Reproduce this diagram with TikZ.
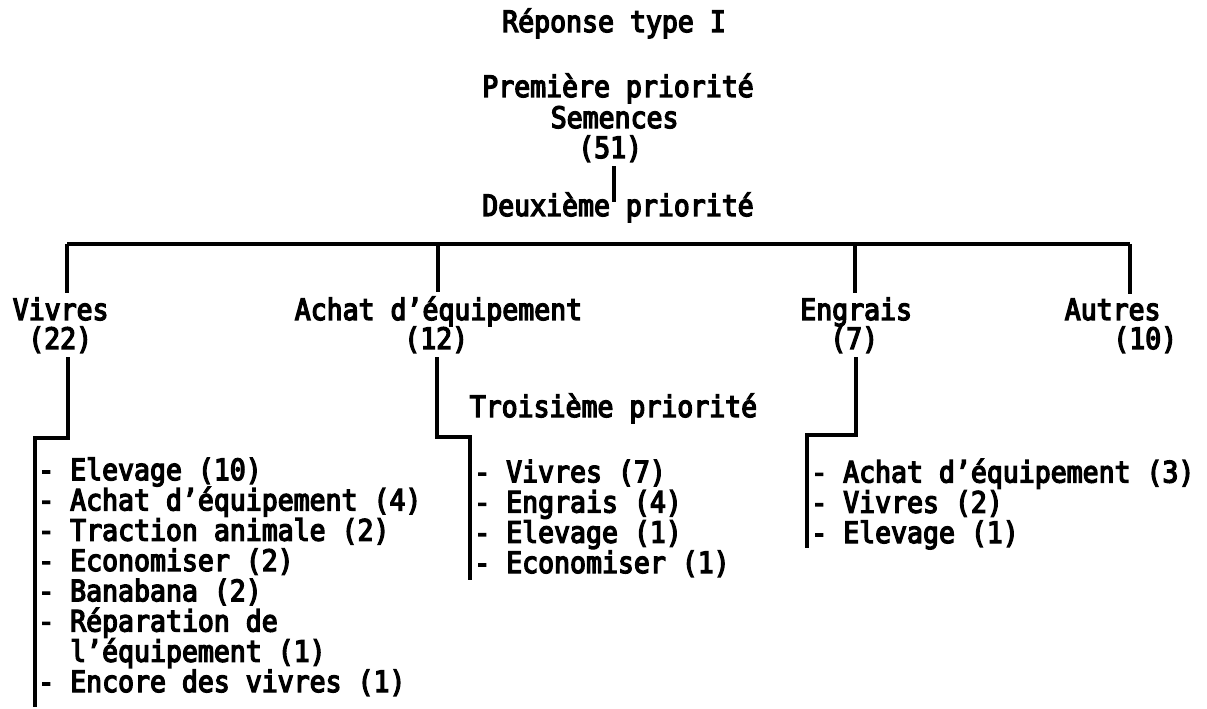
\documentclass[tikz,border=0pt]{standalone}
\usepackage{fontspec}
\setmainfont{DejaVu Sans Mono}[FakeStretch=0.90,
  BoldFont={DejaVu Sans Mono}, BoldFeatures={FakeBold=4.5}]
\begin{document}
\begin{tikzpicture}[x=0.75pt,y=-0.75pt,
  lbl/.style={anchor=base west, inner xsep=0pt, inner ysep=3pt,
    font=\fontsize{22.1pt}{22.7pt}\selectfont\bfseries},
  lst/.style={lbl, align=left},
  rule/.style={line width=2.3pt}]
\useasboundingbox (0,0) rectangle (1207,709);

% headings
\node[lbl] (title)  at (502,32)    {Réponse type I};
\node[lbl] (first)  at (482,97)    {Première priorité};
\node[lbl] (seed)   at (550.5,128) {Semences};
\node[lbl] (seedn)  at (578,158)   {(51)};
\node[lbl] (second) at (482,216)   {Deuxième priorité};

% second-priority branches
\node[lbl] (food)    at (12.5,320)   {Vivres};
\node[lbl] (foodn)   at (28,349)     {(22)};
\node[lbl] (equip)   at (294.5,320)  {Achat d’équipement};
\node[lbl] (equipn)  at (404,349)    {(12)};
\node[lbl] (fert)    at (800,320)    {Engrais};
\node[lbl] (fertn)   at (830,349)    {(7)};
\node[lbl] (other)   at (1064.5,320) {Autres};
\node[lbl] (othern)  at (1113,349)   {(10)};

\node[lbl] (third) at (469.5,417) {Troisième priorité};

% third-priority lists (anchored on the baseline of their last line)
\node[lst] (foodlist) at (38,692) {- Elevage (10)\\
- Achat d’équipement (4)\\
- Traction animale (2)\\
- Economiser (2)\\
- Banabana (2)\\
- Réparation de\\
\hphantom{- }l’équipement (1)\\
- Encore des vivres (1)};
\node[lst] (equiplist) at (474,573) {- Vivres (7)\\
- Engrais (4)\\
- Elevage (1)\\
- Economiser (1)};
\node[lst] (fertlist) at (811,543) {- Achat d’équipement (3)\\
- Vivres (2)\\
- Elevage (1)};

% junction points
\coordinate (top)  at (614,202);
\coordinate (j1)   at (67,244);
\coordinate (j2)   at (438,244);
\coordinate (j3)   at (855,244);
\coordinate (j4)   at (1130,244);
\coordinate (k1)   at (68,0);
\coordinate (k2)   at (437,0);
\coordinate (k3)   at (856,0);
\coordinate (b1)   at (35,438);
\coordinate (b2)   at (470,437);
\coordinate (b3)   at (807,435);
\coordinate (e1)   at (35,707);
\coordinate (e2)   at (470,580);
\coordinate (e3)   at (807,548);

% connectors
\draw[rule] (top |- seedn.south) -- (top);
\draw[rule] (j1) -- (j4);
\draw[rule] (j1) -- (j1 |- food.north);
\draw[rule] (j2) -- (j2 |- equip.north);
\draw[rule] (j3) -- (j3 |- fert.north);
\draw[rule] (j4) -- (j4 |- other.north);
\draw[rule] (k1 |- foodn.south)  |- (b1) -- (e1);
\draw[rule] (k2 |- equipn.south) |- (b2) -- (e2);
\draw[rule] (k3 |- fertn.south)  |- (b3) -- (e3);
\end{tikzpicture}
\end{document}
